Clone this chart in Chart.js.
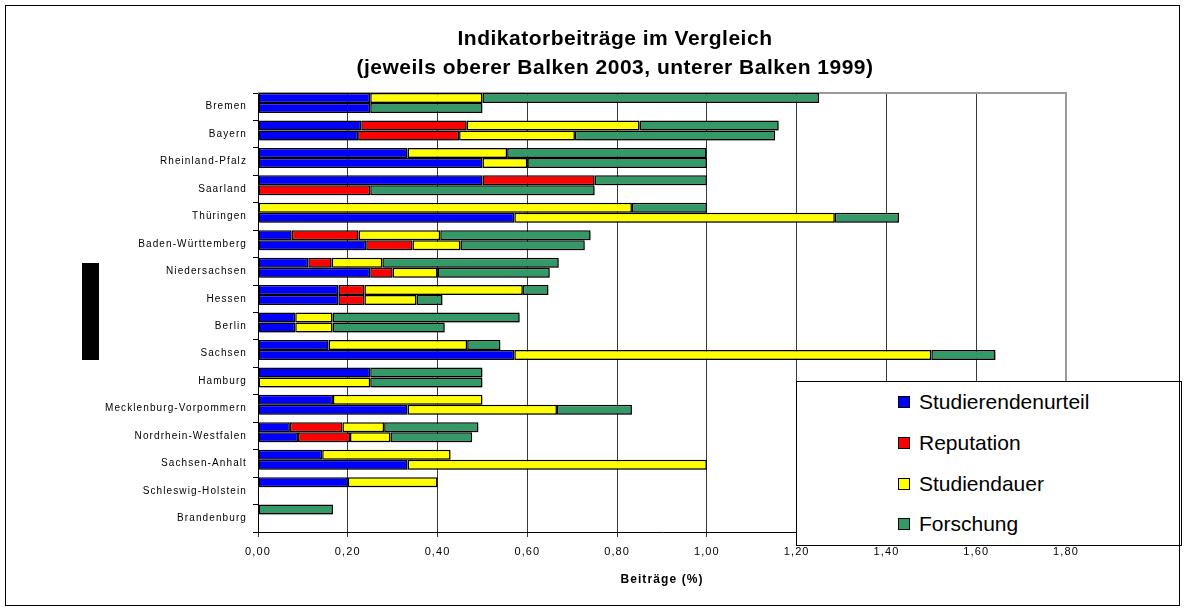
<!DOCTYPE html>
<html>
<head>
<meta charset="utf-8">
<script src="https://cdn.jsdelivr.net/npm/chart.js@4.4.1/dist/chart.umd.min.js"></script>
<style>
  html, body { margin: 0; padding: 0; background: #fff; }
  #wrap { position: relative; width: 1186px; height: 613px; font-family: "Liberation Sans", Arial, sans-serif; }
  #c { position: absolute; left: 0; top: 0; }
  #frame { position: absolute; left: 5px; top: 5px; width: 1175px; height: 601px; border: 1px solid #000; box-sizing: border-box; pointer-events: none; }
  #title { position: absolute; left: 265px; top: 23px; width: 700px; text-align: center; font-weight: bold; font-size: 21px; letter-spacing: 0.5px; line-height: 29px; color: #000; }
  #legend { position: absolute; left: 796px; top: 381px; width: 386px; height: 165px; border: 1px solid #000; background: #fff; box-sizing: border-box; }
  .li { position: absolute; left: 101px; height: 24px; display: flex; align-items: center; font-size: 21px; color: #000; }
  .sw { width: 10px; height: 10px; border: 1px solid #000; margin-right: 9px; }
  #blk { position: absolute; left: 82px; top: 263px; width: 17px; height: 97px; background: #000; }
</style>
</head>
<body>
<div id="wrap">
  <canvas id="c" width="1186" height="613"></canvas>
  <div id="title">Indikatorbeiträge im Vergleich<br>(jeweils oberer Balken 2003, unterer Balken 1999)</div>
  <div id="legend"></div>
  <div id="blk"></div>
  <div id="frame"></div>
</div>
<script>
const categories = ['Bremen','Bayern','Rheinland-Pfalz','Saarland','Thüringen','Baden-Württemberg','Niedersachsen','Hessen','Berlin','Sachsen','Hamburg','Mecklenburg-Vorpommern','Nordrhein-Westfalen','Sachsen-Anhalt','Schleswig-Holstein','Brandenburg'];

const seriesNames = ['Studierendenurteil','Reputation','Studiendauer','Forschung'];
const seriesColors = ['#0000FF','#FF0000','#FFFF00','#339966'];

// 2003 (upper bar)
const studierendenurteil2003 = [0.25, 0.23, 0.333, 0.5, 0, 0.075, 0.112, 0.179, 0.083, 0.157, 0.25, 0.167, 0.071, 0.143, 0.2, 0];
const reputation2003         = [0, 0.235, 0, 0.25, 0, 0.149, 0.052, 0.058, 0, 0, 0, 0, 0.117, 0, 0, 0];
const studiendauer2003       = [0.25, 0.385, 0.222, 0, 0.833, 0.182, 0.113, 0.353, 0.083, 0.309, 0, 0.333, 0.093, 0.286, 0.2, 0];
const forschung2003          = [0.75, 0.31, 0.444, 0.25, 0.167, 0.335, 0.393, 0.057, 0.417, 0.074, 0.25, 0, 0.21, 0, 0, 0.167];

// 1999 (lower bar)
const studierendenurteil1999 = [0.25, 0.223, 0.5, 0, 0.571, 0.241, 0.25, 0.179, 0.083, 0.571, 0, 0.333, 0.089, 0.333, 0, 0];
const reputation1999         = [0, 0.225, 0, 0.25, 0, 0.103, 0.05, 0.058, 0, 0, 0, 0, 0.116, 0, 0, 0];
const studiendauer1999       = [0, 0.258, 0.1, 0, 0.714, 0.107, 0.1, 0.116, 0.083, 0.929, 0.25, 0.333, 0.09, 0.667, 0, 0];
const forschung1999          = [0.25, 0.446, 0.4, 0.5, 0.143, 0.277, 0.25, 0.058, 0.25, 0.143, 0.25, 0.167, 0.182, 0, 0, 0];

const xTickMin = 0, xTickMax = 1.8, xTickStep = 0.2;

const FONT = '"Liberation Sans", Arial, sans-serif';

function mk(label, data, color, stack) {
  return {
    label: label,
    data: data.map(v => v === 0 ? null : v),
    stack: stack,
    backgroundColor: color,
    borderColor: '#000',
    borderWidth: 1.5,
    borderSkipped: false,
    categoryPercentage: 0.73,
    barPercentage: 1.0
  };
}

const s2003 = [studierendenurteil2003, reputation2003, studiendauer2003, forschung2003];
const s1999 = [studierendenurteil1999, reputation1999, studiendauer1999, forschung1999];
const datasets = [];
seriesNames.forEach((n, i) => datasets.push(mk(n, s2003[i], seriesColors[i], '2003')));
seriesNames.forEach((n, i) => datasets.push(mk(n, s1999[i], seriesColors[i], '1999')));

// HTML legend
const leg = document.getElementById('legend');
const rowTops = [8, 49, 90, 130];
seriesNames.forEach((n, i) => {
  const d = document.createElement('div');
  d.className = 'li';
  d.style.top = rowTops[i] + 'px';
  d.innerHTML = '<span class="sw" style="background:' + seriesColors[i] + '"></span><span>' + n + '</span>';
  leg.appendChild(d);
});

const spacing = {
  id: 'spacing',
  beforeDraw(chart) { chart.ctx.letterSpacing = '1.1px'; }
};

const plotDecor = {
  id: 'plotDecor',
  beforeDatasetsDraw(chart) {
    const ctx = chart.ctx, a = chart.chartArea;
    ctx.save();
    ctx.strokeStyle = '#9a9a9a';
    ctx.lineWidth = 2;
    ctx.beginPath();
    ctx.moveTo(a.left, a.top);
    ctx.lineTo(a.right, a.top);
    ctx.lineTo(a.right, a.bottom);
    ctx.stroke();
    ctx.restore();
    ctx.save();
    ctx.translate(0, -3.7);
    ctx.shadowColor = 'rgba(0,0,0,0.28)';
    ctx.shadowOffsetX = 2;
    ctx.shadowOffsetY = 2;
    ctx.shadowBlur = 0;
  },
  afterDatasetsDraw(chart) {
    chart.ctx.restore();
  }
};

new Chart(document.getElementById('c'), {
  type: 'bar',
  data: { labels: categories, datasets: datasets },
  plugins: [spacing, plotDecor],
  options: {
    indexAxis: 'y',
    responsive: false,
    animation: false,
    layout: { padding: { left: 0, right: 120, top: 93, bottom: 0 } },
    plugins: { legend: { display: false }, title: { display: false }, tooltip: { enabled: false } },
    scales: {
      x: {
        type: 'linear',
        stacked: true,
        min: xTickMin,
        max: xTickMax,
        afterFit(scale) { scale.height = 81; },
        ticks: {
          stepSize: xTickStep,
          color: '#000',
          padding: 8,
          font: { family: FONT, size: 11 },
          callback: v => Number(v).toFixed(2).replace('.', ',')
        },
        grid: {
          drawOnChartArea: true,
          drawTicks: true,
          tickLength: 5,
          color: ctx => (ctx.tick && Math.abs(ctx.tick.value - xTickMax) < 1e-6) ? '#9a9a9a' : '#3a3a3a',
          lineWidth: 1
        },
        border: { display: true, color: '#000', width: 1 },
        title: {
          display: true,
          text: 'Beiträge (%)',
          color: '#000',
          font: { family: FONT, size: 12, weight: 'bold' },
          padding: { top: 0, bottom: 26 }
        }
      },
      y: {
        type: 'category',
        stacked: true,
        afterFit(scale) { scale.width = 258; },
        ticks: {
          color: '#000',
          padding: 6,
          font: { family: FONT, size: 10 },
          autoSkip: false
        },
        grid: {
          drawOnChartArea: false,
          drawTicks: true,
          tickLength: 5,
          offset: true,
          color: '#000'
        },
        border: { display: true, color: '#000', width: 1 }
      }
    }
  }
});
</script>
</body>
</html>
